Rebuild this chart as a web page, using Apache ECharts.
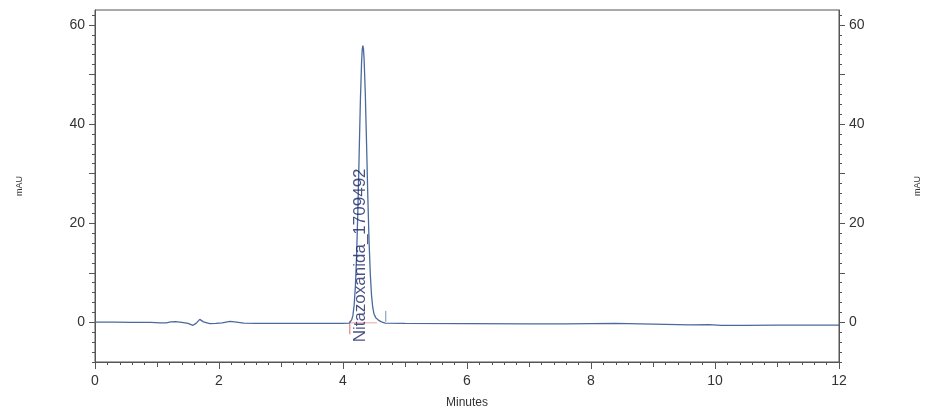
<!DOCTYPE html>
<html>
<head>
<meta charset="utf-8">
<script src="https://cdn.jsdelivr.net/npm/echarts@6/dist/echarts.min.js"></script>
<style>
    html, body { margin: 0; padding: 0; background: #fff; }
    #main { width: 930px; height: 415px; }
</style>
</head>
<body>
<div id="main"></div>
<script>
// chromatogram trace (minutes, mAU)
var traceTime = [0.00, 0.30, 0.60, 0.90, 1.05, 1.15, 1.22, 1.30, 1.40, 1.50, 1.58, 1.63, 1.69, 1.75, 1.85, 1.95, 2.05, 2.18, 2.28, 2.40, 2.60, 3.00, 3.50, 4.00, 4.10,
    4.12, 4.14, 4.16, 4.18, 4.20, 4.22, 4.24, 4.26, 4.28, 4.30, 4.31, 4.32, 4.33, 4.34, 4.36, 4.38, 4.40, 4.42, 4.44, 4.46, 4.48, 4.50, 4.53, 4.57, 4.62, 4.68,
    5.00, 6.00, 7.00, 7.60, 8.00, 8.40, 8.80, 9.20, 9.60, 9.90, 10.10, 10.50, 11.00, 11.50, 12.00];
var traceMAU = [0.05, 0.05, 0.0, 0.0, -0.1, -0.1, 0.1, 0.15, 0.0, -0.2, -0.6, -0.2, 0.6, 0.1, -0.25, -0.2, -0.1, 0.2, 0.05, -0.15, -0.2, -0.2, -0.2, -0.2, -0.15,
    0.1, 0.5, 1.4, 3.5, 7.3, 13.7, 22.7, 33.6, 44.5, 52.6, 55.0, 55.8, 55.2, 53.2, 46.0, 36.0, 25.5, 16.5, 9.8, 5.5, 3.0, 1.7, 0.9, 0.45, 0.1, -0.15,
    -0.2, -0.25, -0.3, -0.3, -0.25, -0.2, -0.3, -0.4, -0.5, -0.45, -0.6, -0.6, -0.55, -0.55, -0.55];

// peak annotation and integration marks
var peakName = ['Nitazoxanida_1709492'];
var peakLabelTime = [4.28];
var peakLabelMAU = [13.5];
var startMarkTime = [4.11, 4.11];
var startMarkMAU = [0.3, -2.4];
var baseMarkTime = [4.11, 4.55];
var baseMarkMAU = [-0.1, -0.1];
var endMarkTime = [4.69, 4.69];
var endMarkMAU = [0.1, 2.3];

// axes
var xLabelTicks = [0, 2, 4, 6, 8, 10, 12];
var yLabelValues = [0, 20, 40, 60];
var yMajorTicks = [0, 10, 20, 30, 40, 50, 60];
var yMinorTicks = [];
for (var v = -8; v <= 62; v += 2) {
    yMinorTicks.push(v);
}

function pairs(xs, ys) {
    var out = [];
    for (var i = 0; i < xs.length; i++) {
        out.push([xs[i], ys[i]]);
    }
    return out;
}

var axisColor = '#555';
var labelColor = '#333';
var font = 'Arial, "Liberation Sans", sans-serif';

function yAxisDef(pos, major) {
    return {
        type: 'value',
        position: pos,
        min: -8,
        max: 63,
        name: major ? 'mAU' : '',
        nameLocation: 'middle',
        nameRotate: 90,
        nameGap: pos == 'left' ? 71 : 74,
        nameTextStyle: { color: labelColor, fontSize: 9, fontFamily: font },
        axisLine: { show: !major, onZero: false, lineStyle: { color: axisColor, width: 1 } },
        axisTick: {
            show: true,
            length: major ? 6 : 3,
            customValues: major ? yMajorTicks : yMinorTicks,
            lineStyle: { color: axisColor }
        },
        axisLabel: {
            show: major,
            customValues: yLabelValues,
            margin: 10,
            color: labelColor,
            fontSize: 14,
            fontFamily: font
        },
        splitLine: { show: false }
    };
}

var myChart = echarts.init(document.getElementById('main'));
var option = {
    animation: false,
    backgroundColor: '#fff',
    grid: {
        left: 95,
        right: 91,
        top: 10,
        bottom: 53,
        show: true,
        borderColor: axisColor,
        borderWidth: 1
    },
    xAxis: [{
        type: 'value',
        min: 0,
        max: 12,
        interval: 1,
        position: 'bottom',
        axisLine: { onZero: false, lineStyle: { color: axisColor } },
        axisTick: { length: 5, lineStyle: { color: axisColor } },
        minorTick: { show: true, splitNumber: 5, length: 3, lineStyle: { color: axisColor } },
        axisLabel: { show: false },
        splitLine: { show: false }
    }, {
        type: 'value',
        min: 0,
        max: 12,
        interval: 2,
        position: 'bottom',
        name: 'Minutes',
        nameLocation: 'middle',
        nameGap: 35,
        nameTextStyle: { color: labelColor, fontSize: 12, fontFamily: font },
        axisLine: { show: false, onZero: false },
        axisTick: { length: 7, lineStyle: { color: axisColor } },
        axisLabel: {
            margin: 12,
            color: labelColor,
            fontSize: 14,
            fontFamily: font,
            formatter: function (val) {
                return xLabelTicks.indexOf(val) >= 0 ? String(val) : '';
            }
        },
        splitLine: { show: false }
    }],
    yAxis: [yAxisDef('left', false), yAxisDef('left', true), yAxisDef('right', false), yAxisDef('right', true)],
    series: [{
        type: 'line',
        name: 'trace',
        data: pairs(traceTime, traceMAU),
        showSymbol: false,
        lineStyle: { color: '#4a6a9c', width: 1.3 },
        z: 3
    }, {
        type: 'line',
        data: pairs(startMarkTime, startMarkMAU),
        showSymbol: false,
        lineStyle: { color: '#e06a6a', width: 1 },
        z: 2
    }, {
        type: 'line',
        data: pairs(baseMarkTime, baseMarkMAU),
        showSymbol: false,
        lineStyle: { color: '#f0a0a0', width: 1 },
        z: 2
    }, {
        type: 'line',
        data: pairs(endMarkTime, endMarkMAU),
        showSymbol: false,
        lineStyle: { color: '#7d8fae', width: 1 },
        z: 2
    }, {
        type: 'scatter',
        symbolSize: 0,
        data: [{ name: peakName[0], value: [peakLabelTime[0], peakLabelMAU[0]] }],
        label: {
            show: true,
            position: 'inside',
            rotate: 90,
            formatter: '{b}',
            color: '#1a2566',
            fontSize: 17,
            fontFamily: font
        },
        z: 4
    }]
};
myChart.setOption(option);
</script>
</body>
</html>
